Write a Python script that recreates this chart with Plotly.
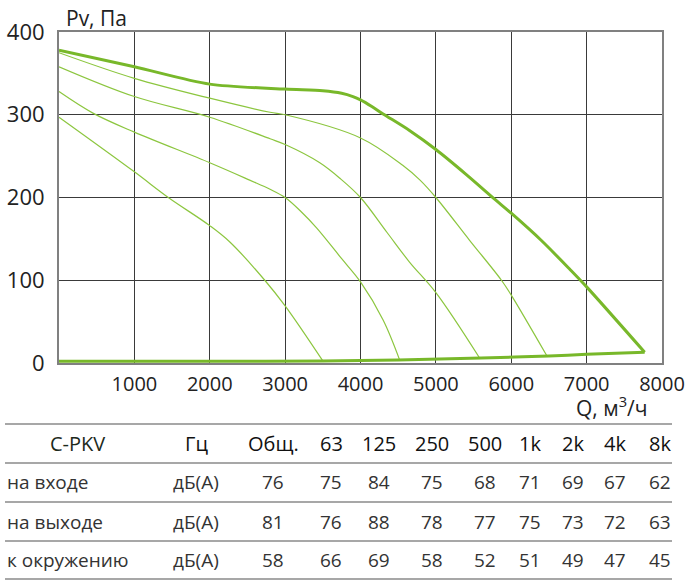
import plotly.graph_objects as go

W, H = 686, 580

# fan curve (thick) and the bottom line it returns along
q_max = [0, 1000, 2000, 3000, 3500, 3750, 3900, 4000, 4150, 4300, 4650, 5000, 5400, 5780, 6000, 6400, 6780, 7000, 7770]
p_max = [378, 358, 337, 331, 329, 326, 322, 318, 310, 301, 281, 258, 228, 198, 181, 148, 113, 92, 13]
q_base = [0, 2000, 3500, 4500, 5600, 6500, 7000, 7770]
p_base = [2, 2, 2.5, 3.5, 6, 8.5, 10.5, 13]

# speed-controller curves (thin)
curves = [
    ([0, 1000, 2000, 2800, 3000, 4000, 4560, 4790, 5000, 5450, 5870, 6000, 6470],
     [375, 344, 320, 303, 300, 272, 239, 221, 200, 148, 100, 82, 9]),
    ([0, 1000, 2000, 2800, 3000, 3460, 3730, 4000, 4350, 4650, 5000, 5580],
     [358, 322, 297, 271, 264, 242, 223, 200, 158, 122, 85, 6]),
    ([0, 450, 1000, 2000, 2530, 2800, 3000, 3200, 3420, 3750, 4000, 4300, 4520],
     [328, 302, 279, 242, 221, 210, 200, 184, 163, 126, 98, 52, 3.5]),
    ([0, 1000, 1450, 2000, 2270, 2730, 3000, 3500],
     [297, 231, 200, 166, 146, 100, 69, 2.5]),
]

x_ticks = [1000, 2000, 3000, 4000, 5000, 6000, 7000, 8000]
y_ticks = [0, 100, 200, 300, 400]

# noise table
model = "C-PKV"
bands = ["Гц", "Общ.", "63", "125", "250", "500", "1k", "2k", "4k", "8k"]
row_names = ["на входе", "на выходе", "к окружению"]
unit = "дБ(А)"
inlet = [76, 75, 84, 75, 68, 71, 69, 67, 62]
outlet = [81, 76, 88, 78, 77, 75, 73, 72, 63]
ambient = [58, 66, 69, 58, 52, 51, 49, 47, 45]

THIN = "#8cc63f"
THICK = "#78b82a"
FONT = "Open Sans"

fig = go.Figure()
for q, p in curves:
    fig.add_trace(go.Scatter(x=q, y=p, mode="lines",
                             line=dict(color=THIN, width=1.2, shape="spline", smoothing=1.0),
                             hoverinfo="skip", showlegend=False))
fig.add_trace(go.Scatter(x=q_max, y=p_max, mode="lines",
                         line=dict(color=THICK, width=3, shape="spline", smoothing=0.8),
                         hoverinfo="skip", showlegend=False))
fig.add_trace(go.Scatter(x=q_base, y=p_base, mode="lines",
                         line=dict(color=THICK, width=3, shape="spline", smoothing=0.5),
                         hoverinfo="skip", showlegend=False))


def px(x):
    return x / W


def py(y):
    return 1 - y / H


fig.update_layout(
    width=W, height=H, autosize=False,
    margin=dict(l=0, r=0, t=0, b=0),
    paper_bgcolor="white", plot_bgcolor="white",
    font=dict(family=FONT, color="#222"),
    xaxis=dict(domain=[px(59), px(662)], range=[0, 8000], tickvals=x_ticks, automargin=False,
               showgrid=True, gridcolor="#3a3a3a", gridwidth=1, zeroline=False,
               showline=True, mirror=True, linecolor="#808080", linewidth=2,
               ticks="", ticklabelstandoff=2, ticklabeloverflow="allow",
               tickfont=dict(size=20, color="#222")),
    yaxis=dict(domain=[py(363), py(32)], range=[0, 400], tickvals=y_ticks, automargin=False,
               showgrid=True, gridcolor="#3a3a3a", gridwidth=1, zeroline=False,
               showline=True, mirror=True, linecolor="#808080", linewidth=2,
               ticks="", ticklabelstandoff=8, tickfont=dict(size=22, color="#222")),
)

ann = []
ann.append(dict(text="Pv, Па", x=px(64), y=py(18), xanchor="left", yanchor="middle",
                font=dict(size=21, color="#222")))
ann.append(dict(text="Q, м<sup>3</sup>/ч", x=px(650), y=py(406), xanchor="right", yanchor="middle",
                font=dict(size=21, color="#222")))

# table
col_x = [196, 273, 331, 379, 432, 485, 530, 573, 615, 660]
line_y = [424, 463, 502, 541, 579]
text_y = [443, 482, 522, 560]

ann.append(dict(text=model, x=px(77), y=py(text_y[0]), xanchor="center", yanchor="middle",
                font=dict(size=20, color="#1c2a1c")))
for cx, b in zip(col_x, bands):
    ann.append(dict(text=b, x=px(cx), y=py(text_y[0]), xanchor="center", yanchor="middle",
                    font=dict(size=20, color="#111")))
for ty, name, vals in zip(text_y[1:], row_names, [inlet, outlet, ambient]):
    ann.append(dict(text=name, x=px(5), y=py(ty), xanchor="left", yanchor="middle",
                    font=dict(size=19, color="#333")))
    ann.append(dict(text=unit, x=px(col_x[0]), y=py(ty), xanchor="center", yanchor="middle",
                    font=dict(size=19, color="#333")))
    for cx, v in zip(col_x[1:], vals):
        ann.append(dict(text=str(v), x=px(cx), y=py(ty), xanchor="center", yanchor="middle",
                        font=dict(size=19, color="#333")))
for a in ann:
    a.update(xref="paper", yref="paper", showarrow=False)
fig.update_layout(annotations=ann)

fig.update_layout(shapes=[
    dict(type="line", xref="paper", yref="paper", x0=px(5), x1=px(672),
         y0=py(ly), y1=py(ly), line=dict(color="#8a8a8a", width=1.5))
    for ly in line_y
])

# drop the default 8px page margin so the figure sits at the window's corner
fig.write_html("out.html", config={"displayModeBar": False},
               post_script="document.body.style.margin='0';document.body.style.overflow='hidden';")
